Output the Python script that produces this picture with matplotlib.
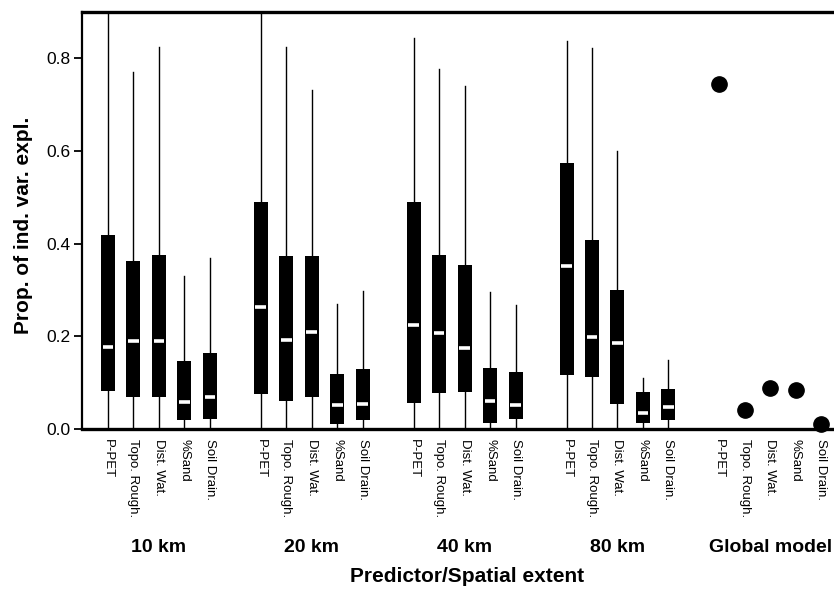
import matplotlib
matplotlib.use("Agg")
import matplotlib.pyplot as plt
import matplotlib.transforms as mtransforms

plt.rcParams['font.family'] = ['Liberation Sans', 'DejaVu Sans']

# --- data ---
groups = ["10 km", "20 km", "40 km", "80 km", "Global model"]
predictors = ["P-PET", "Topo. Rough.", "Dist. Wat.", "%Sand", "Soil Drain."]

# four spatial extents x five predictors, in order
whishi = [0.95, 0.770, 0.824, 0.331, 0.370,
          0.95, 0.824, 0.732, 0.269, 0.298,
          0.843, 0.777, 0.741, 0.295, 0.267,
          0.837, 0.823, 0.599, 0.110, 0.150]
q3 = [0.418, 0.363, 0.375, 0.147, 0.163,
      0.490, 0.373, 0.373, 0.118, 0.130,
      0.489, 0.375, 0.353, 0.131, 0.122,
      0.574, 0.407, 0.300, 0.079, 0.087]
med = [0.176, 0.191, 0.191, 0.059, 0.068,
       0.264, 0.192, 0.209, 0.051, 0.053,
       0.225, 0.208, 0.174, 0.061, 0.051,
       0.351, 0.199, 0.186, 0.034, 0.048]
q1 = [0.081, 0.069, 0.070, 0.020, 0.021,
      0.076, 0.061, 0.069, 0.011, 0.019,
      0.056, 0.077, 0.080, 0.013, 0.022,
      0.117, 0.113, 0.055, 0.013, 0.020]
whislo = [0.0, 0.0, 0.0, 0.0, 0.0,
          0.0, 0.0, 0.0, 0.0, 0.0,
          0.005, 0.0, 0.0, 0.0, 0.0,
          0.0, 0.0, 0.004, 0.0, 0.0]
global_model = [0.745, 0.040, 0.089, 0.084, 0.010]

# positions: 5 slots per group, one empty slot between groups
npred = len(predictors)
box_pos = [g * (npred + 1) + i + 1 for g in range(4) for i in range(npred)]
glob_pos = [4 * (npred + 1) + i + 1 for i in range(npred)]

fig = plt.figure(figsize=(8.34, 5.93), dpi=100)
ax = fig.add_axes([82 / 834, 1 - 429 / 593, 1 - 82 / 834, 417 / 593])

stats = [dict(whislo=lo, q1=a, med=m, q3=b, whishi=hi)
         for lo, a, m, b, hi in zip(whislo, q1, med, q3, whishi)]
ax.bxp(stats, positions=box_pos, widths=0.55, patch_artist=True,
       showcaps=False, showfliers=False,
       boxprops=dict(facecolor="black", edgecolor="black", linewidth=0),
       whiskerprops=dict(color="black", linewidth=1.0),
       medianprops=dict(linewidth=0))
# white median bars
ax.hlines(med, [p - 0.21 for p in box_pos], [p + 0.21 for p in box_pos],
          color="white", linewidth=2.6, zorder=5)

ax.plot(glob_pos, global_model, "o", color="black", markersize=11,
        clip_on=False, zorder=6)

ax.set_xlim(-0.02, 29.5)
ax.set_ylim(0, 0.9)
ax.set_yticks([0, 0.2, 0.4, 0.6, 0.8])
ax.set_yticklabels(["0.0", "0.2", "0.4", "0.6", "0.8"], fontsize=12.5)
ax.set_xticks(box_pos + glob_pos)
ax.set_xticklabels(predictors * 5, rotation=-90, fontsize=9.5, va="top")
ax.tick_params(axis="x", length=0, pad=7)
ax.tick_params(axis="y", direction="out", length=6, width=1.3, pad=2)

ax.spines["right"].set_visible(False)
ax.spines["top"].set_linewidth(2.4)
ax.spines["bottom"].set_linewidth(2.4)
ax.spines["left"].set_linewidth(1.6)

# group labels under the predictor names
trans = mtransforms.blended_transform_factory(ax.transData, fig.transFigure)
for g, name in enumerate(groups):
    xc = g * (npred + 1) + (npred + 1) / 2
    fig.text(xc, 1 - 548 / 593, name, transform=trans, ha="center",
             va="center", fontsize=14, fontweight="bold")

fig.text(467 / 834, 1 - 576 / 593, "Predictor/Spatial extent", ha="center",
         va="center", fontsize=15, fontweight="bold")
fig.text(24 / 834, 1 - 225 / 593, "Prop. of ind. var. expl.", rotation=90,
         ha="center", va="center", fontsize=15, fontweight="bold")

fig.savefig("out.png", dpi=100)
